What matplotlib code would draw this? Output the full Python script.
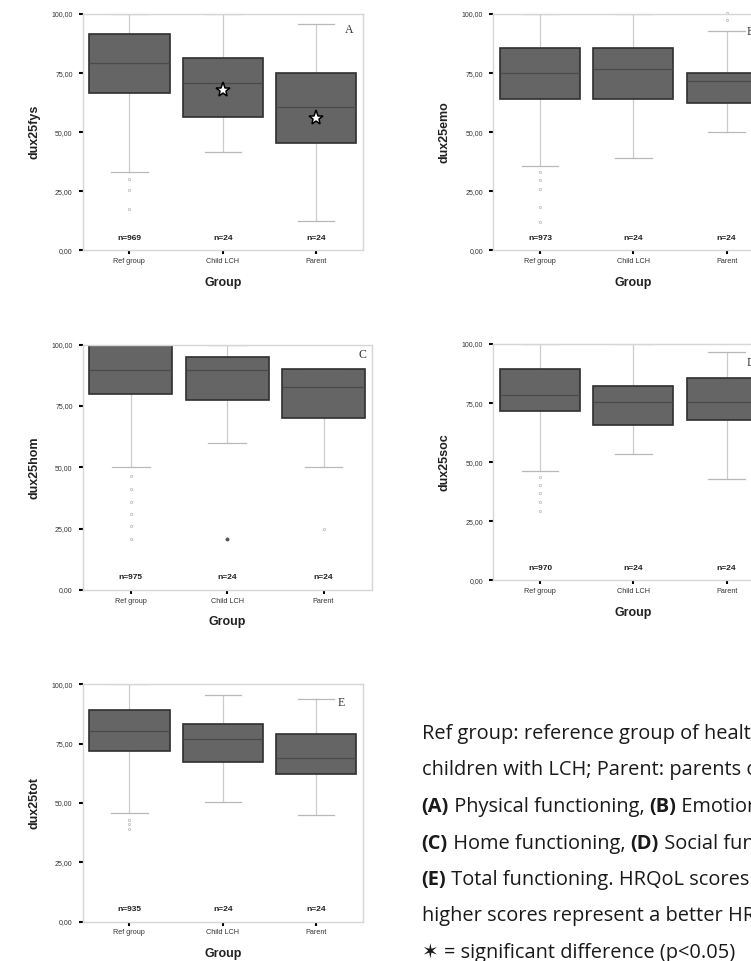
import matplotlib
matplotlib.use("Agg")
import matplotlib.pyplot as plt

# Data (box-plot statistics per group)
groups = ["Ref group", "Child LCH", "Parent"]

fys_q1 = [66.7, 56.2, 45.6]
fys_med = [79.1, 70.8, 60.6]
fys_q3 = [91.7, 81.2, 75.0]
fys_lo = [33.0, 41.5, 12.3]
fys_hi = [100.0, 100.0, 95.6]
fys_fliers = [[30.0, 25.7, 17.4], [], []]
fys_n = [969, 24, 24]
fys_sig = [None, 67.8, 55.8]

emo_q1 = [64.1, 64.1, 62.4]
emo_med = [75.0, 76.7, 71.6]
emo_q3 = [85.7, 85.7, 75.0]
emo_lo = [35.7, 39.0, 50.0]
emo_hi = [100.0, 100.0, 92.7]
emo_fliers = [[33.2, 29.7, 26.0, 18.5, 11.9], [], [100.5, 97.3]]
emo_n = [973, 24, 24]

hom_q1 = [80.0, 77.3, 70.0]
hom_med = [89.7, 89.7, 82.6]
hom_q3 = [100.0, 95.1, 90.0]
hom_lo = [50.0, 60.0, 50.0]
hom_hi = [100.0, 100.0, 90.0]
hom_fliers = [[46.5, 41.0, 36.0, 31.0, 26.0, 20.9], [], [25.0]]
hom_extremes = [[], [20.7], []]
hom_n = [975, 24, 24]

soc_q1 = [71.8, 65.9, 67.8]
soc_med = [78.4, 75.3, 75.3]
soc_q3 = [89.4, 82.2, 85.7]
soc_lo = [46.4, 53.6, 42.7]
soc_hi = [100.0, 100.0, 96.6]
soc_fliers = [[43.9, 40.3, 36.8, 33.3, 29.5], [], []]
soc_n = [970, 24, 24]

tot_q1 = [71.8, 67.4, 62.4]
tot_med = [80.5, 76.9, 69.1]
tot_q3 = [89.1, 83.4, 79.0]
tot_lo = [45.7, 50.3, 45.0]
tot_hi = [100.0, 95.7, 93.7]
tot_fliers = [[42.9, 41.0, 38.9], [], []]
tot_n = [935, 24, 24]

yticks = [0, 25, 50, 75, 100]

caption_lines = [
    [("Ref group: reference group of healthy children;", "normal")],
    [("children with LCH; Parent: parents of children with LCH.", "normal")],
    [("(A)", "bold"), (" Physical functioning, ", "normal"), ("(B)", "bold"), (" Emotional functioning,", "normal")],
    [("(C)", "bold"), (" Home functioning, ", "normal"), ("(D)", "bold"), (" Social functioning,", "normal")],
    [("(E)", "bold"), (" Total functioning. HRQoL scores range from 0 to 100,", "normal")],
    [("higher scores represent a better HRQoL.", "normal")],
    [("\u2736 = significant difference (p<0.05)", "normal")],
]

W, H = 751, 961
fig = plt.figure(figsize=(W / 100, H / 100), dpi=100)
fig.patch.set_facecolor("white")

SANS = ["Liberation Sans", "DejaVu Sans"]


def add_ax(left, top, width, height):
    return fig.add_axes([left / W, 1 - (top + height) / H, width / W, height / H])


def panel(ax, q1, med, q3, lo, hi, fliers, n, ylabel, letter, letter_pos,
          extremes=None, sig=None):
    stats = []
    for i in range(len(groups)):
        stats.append(dict(med=med[i], q1=q1[i], q3=q3[i], whislo=lo[i],
                          whishi=hi[i], fliers=fliers[i], label=groups[i]))
    ax.bxp(stats, positions=range(len(groups)), widths=0.86, capwidths=0.39,
           patch_artist=True,
           boxprops=dict(facecolor="#656565", edgecolor="#2f2f2f", linewidth=1.2),
           medianprops=dict(color="#4a4a4a", linewidth=0.9),
           whiskerprops=dict(color="#cccccc", linewidth=0.9, zorder=1),
           capprops=dict(color="#b8b8b8", linewidth=0.9, zorder=1),
           flierprops=dict(marker="o", markersize=1.6, markerfacecolor="none",
                           markeredgecolor="#c0c0c0", markeredgewidth=0.6, clip_on=False))
    if extremes:
        for i, vals in enumerate(extremes):
            if vals:
                ax.plot([i] * len(vals), vals, "o", ms=1.8, color="#555555", zorder=4)
    if sig:
        for i, v in enumerate(sig):
            if v is not None:
                ax.plot(i, v, marker="*", ms=11, mfc="white", mec="black",
                        mew=1.1, zorder=5)
    for i, v in enumerate(n):
        ax.text(i, 5.0, f"n={v}", ha="center", va="center", fontsize=6,
                fontweight="bold", family=SANS, color="#222222")

    ax.set_xlim(-0.5, 2.5)
    ax.set_ylim(0, 100)
    ax.set_yticks(yticks)
    ax.set_yticklabels([f"{v:.2f}".replace(".", ",") for v in yticks])
    ax.set_xticks(range(len(groups)))
    ax.set_xticklabels(groups)
    for sp in ax.spines.values():
        sp.set_color("#d6d6d6")
        sp.set_linewidth(1.0)
    ax.tick_params(axis="y", length=3.2, width=1.5, pad=4, color="black",
                   labelsize=5, labelcolor="#333333")
    ax.tick_params(axis="x", length=3, width=1.5, pad=2.5, color="black",
                   labelsize=5.2, labelcolor="#333333")
    for lab in ax.get_xticklabels() + ax.get_yticklabels():
        lab.set_family(SANS)

    bb = ax.get_position()
    w_px = bb.width * W
    h_px = bb.height * H
    ax.set_xlabel("Group", fontsize=9, fontweight="bold", family=SANS,
                  color="#222222", va="center")
    ax.xaxis.set_label_coords(0.5, -32.4 / h_px)
    ax.set_ylabel(ylabel, fontsize=9, fontweight="bold", family=SANS,
                  color="#222222", va="center")
    ax.yaxis.set_label_coords(-48.5 / w_px, 0.5)
    ax.text(letter_pos[0], letter_pos[1], letter, transform=ax.transAxes,
            ha="left", va="center", fontsize=8.5, family="Liberation Serif",
            color="#333333")


axA = add_ax(82.7, 14, 280, 236.3)
panel(axA, fys_q1, fys_med, fys_q3, fys_lo, fys_hi, fys_fliers, fys_n,
      "dux25fys", "A", (0.937, 0.932), sig=fys_sig)

axB = add_ax(493.3, 14, 280, 236.3)
panel(axB, emo_q1, emo_med, emo_q3, emo_lo, emo_hi, emo_fliers, emo_n,
      "dux25emo", "B", (0.905, 0.924))

axC = add_ax(82.7, 344.7, 289, 245.3)
panel(axC, hom_q1, hom_med, hom_q3, hom_lo, hom_hi, hom_fliers, hom_n,
      "dux25hom", "C", (0.956, 0.958), extremes=hom_extremes)

axD = add_ax(493.3, 344, 280, 236.3)
panel(axD, soc_q1, soc_med, soc_q3, soc_lo, soc_hi, soc_fliers, soc_n,
      "dux25soc", "D", (0.905, 0.918))

axE = add_ax(82.7, 684.3, 280, 237.4)
panel(axE, tot_q1, tot_med, tot_q3, tot_lo, tot_hi, tot_fliers, tot_n,
      "dux25tot", "E", (0.909, 0.92))

# Caption text (cut off by the figure edge like the reference)
txt = fig.add_axes([0, 0, 1, 1])
txt.set_xlim(0, W)
txt.set_ylim(H, 0)
txt.axis("off")
txt.patch.set_alpha(0)

cap_font = ["Open Sans", "DejaVu Sans"]
cap_size = 14.4
base_y = 739
line_gap = 36.5
for k, pieces in enumerate(caption_lines):
    y = base_y + k * line_gap
    prev = None
    for s, weight in pieces:
        if prev is None:
            prev = txt.text(421.5, y, s, ha="left", va="baseline", fontsize=cap_size,
                            fontweight=weight, family=cap_font, color="#1a1a1a")
        else:
            prev = txt.annotate(s, xy=(1, y), xycoords=(prev, "data"),
                                ha="left", va="baseline", fontsize=cap_size,
                                fontweight=weight, family=cap_font, color="#1a1a1a")

fig.savefig("out.png", dpi=100)
